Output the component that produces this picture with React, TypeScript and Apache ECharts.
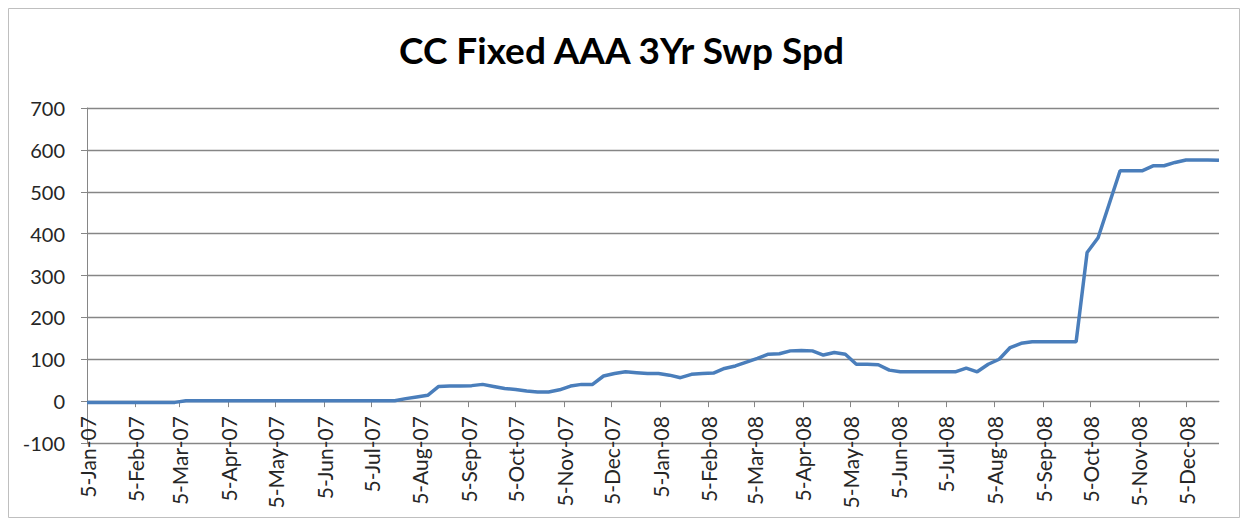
import React, { useEffect, useRef } from "react";
import * as echarts from "echarts";

const TITLE = "CC Fixed AAA 3Yr Swp Spd";
// weekly observations (Fridays) starting 5-Jan-2007
const START_YEAR = 2007;
const START_MONTH = 0;
const START_DAY = 5;
const SPREAD: number[] = [
  -3, -3, -3, -3, -3, -3, -3, -3, -3,
  1, 1, 1, 1, 1, 1, 1, 1, 1, 1, 1, 1, 1, 1, 1, 1, 1, 1, 1, 1,
  6, 10, 14, 35, 36, 36, 37, 40, 35, 30, 28, 24, 22, 22, 27, 36, 40, 40,
  60, 66, 70, 68, 66, 66, 62, 56, 64, 66, 67, 78, 84, 93, 102, 112, 113,
  120, 121, 120, 110, 116, 112, 88, 88, 87, 74, 70, 70, 70, 70, 70, 70,
  79, 70, 88, 100, 128, 138, 142, 142, 142, 142, 142,
  355, 390, 470, 550, 550, 550, 562, 562, 570, 576, 576, 576, 575,
];
const MONTHS = ["Jan", "Feb", "Mar", "Apr", "May", "Jun", "Jul", "Aug", "Sep", "Oct", "Nov", "Dec"];
const TICK_YEARS = [2007, 2008];
const TICK_DAY = 5;
const Y_MIN = -100;
const Y_MAX = 700;
const Y_STEP = 100;

const DAY_MS = 86400000;
const W = 1243;
const H = 523;
const GRID = { left: 87, right: 24, top: 108, bottom: 80 };

export default function App() {
  const ref = useRef<HTMLDivElement>(null);
  useEffect(() => {
    const chart = echarts.init(ref.current!, null, { renderer: "svg" });
    const start = Date.UTC(START_YEAR, START_MONTH, START_DAY);
    // x = days since the first observation
    const data = SPREAD.map((v, i) => [i * 7, v]);
    const ticks: number[] = [];
    TICK_YEARS.forEach((y) =>
      MONTHS.forEach((_, m) => ticks.push(Math.round((Date.UTC(y, m, TICK_DAY) - start) / DAY_MS)))
    );
    const fmt = (v: number) => {
      const d = new Date(start + v * DAY_MS);
      return `${d.getUTCDate()}-${MONTHS[d.getUTCMonth()]}-${String(d.getUTCFullYear() % 100).padStart(2, "0")}`;
    };
    // place the category axis where value 0 sits (Excel "axis crosses at 0")
    const plotH = H - GRID.top - GRID.bottom;
    const zeroY = GRID.top + (plotH * (Y_MAX - 0)) / (Y_MAX - Y_MIN);
    const xOffset = -(GRID.top + plotH - zeroY);
    const gray = "#868686";
    const labelColor = "#262626";
    chart.setOption({
      animation: false,
      title: {
        text: TITLE,
        left: "center",
        top: 26,
        textStyle: { fontFamily: "Lato", fontWeight: "bold", fontSize: 37, color: "#000" },
      },
      graphic: [
        {
          type: "rect",
          shape: { x: 8.5, y: 8.5, width: 1231, height: 509 },
          style: { fill: "none", stroke: "#bfbfbf", lineWidth: 1 },
          silent: true,
        },
      ],
      grid: GRID,
      xAxis: {
        type: "value",
        min: 0,
        max: data[data.length - 1][0],
        offset: xOffset,
        axisLine: { show: true, onZero: false, lineStyle: { color: gray, width: 1 } },
        axisTick: { show: true, length: 6, customValues: ticks, lineStyle: { color: gray } },
        axisLabel: {
          customValues: ticks,
          rotate: 90,
          margin: 15,
          formatter: (v: number) => fmt(v),
          fontFamily: "Lato",
          fontSize: 21,
          color: labelColor,
        },
        splitLine: { show: false },
      },
      yAxis: {
        type: "value",
        min: Y_MIN,
        max: Y_MAX,
        interval: Y_STEP,
        axisLine: { show: true, onZero: false, lineStyle: { color: gray, width: 1 } },
        axisTick: { show: true, length: 6, lineStyle: { color: gray } },
        axisLabel: { margin: 22, fontFamily: "Lato", fontSize: 20, color: labelColor },
        splitLine: { show: true, lineStyle: { color: gray, width: 1.3 } },
      },
      series: [
        {
          type: "line",
          data,
          showSymbol: false,
          symbol: "none",
          lineStyle: { color: "#4a7ebb", width: 3.5 },
          itemStyle: { color: "#4a7ebb" },
        },
      ],
    });
    return () => chart.dispose();
  }, []);
  return <div ref={ref} style={{ position: "absolute", left: 0, top: 0, width: W, height: H }} />;
}
